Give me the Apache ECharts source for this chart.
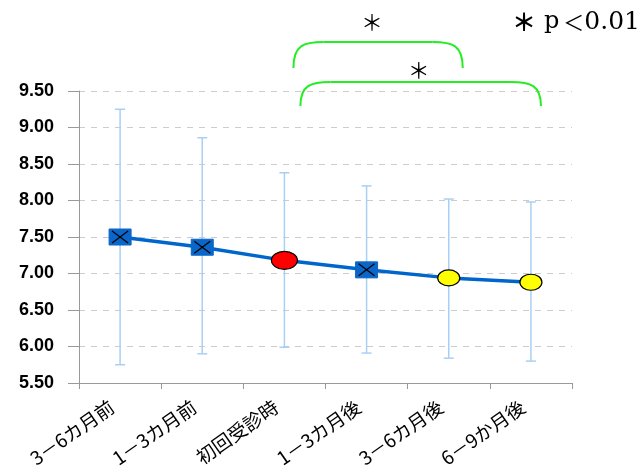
<!DOCTYPE html>
<html><head><meta charset="utf-8">
<script src="https://cdn.jsdelivr.net/npm/echarts@6/dist/echarts.min.js"></script>
<style>html,body{margin:0;padding:0;background:#fff}#c{width:643px;height:467px}</style>
</head><body><div id="c"></div>
<script>
const categories = ['3－6カ月前','1－3カ月前','初回受診時','1－3カ月後','3－6カ月後','6－9か月後'];
const means = [7.50, 7.36, 7.18, 7.05, 6.94, 6.88];
const upper = [9.25, 8.86, 8.38, 8.20, 8.02, 7.98];
const lower = [5.75, 5.90, 5.99, 5.91, 5.84, 5.80];
const markerKinds = ['square','square','red','square','yellow','yellow'];
const yTicks = [5.5, 9.5, 0.5];

const chart = echarts.init(document.getElementById('c'));
const errData = categories.map((c,i)=>[i, lower[i], upper[i]]);
const markData = categories.map((c,i)=>[i, means[i]]);

chart.setOption({
  animation:false,
  grid:{left:79,right:71,top:91,bottom:84,containLabel:false,outerBoundsMode:'none'},
  xAxis:{type:'category',data:categories,boundaryGap:true,
    axisLine:{lineStyle:{color:'#999',width:1}},
    axisTick:{show:true,length:6,lineStyle:{color:'#999'}},
    axisLabel:{rotate:35,fontSize:19,color:'#000',margin:16,fontFamily:'Noto Sans CJK JP',interval:0,padding:[0,10,0,0],hideOverlap:false}},
  yAxis:{type:'value',min:yTicks[0],max:yTicks[1],interval:yTicks[2],
    axisLine:{show:true,lineStyle:{color:'#999'}},
    axisTick:{show:true,length:11,lineStyle:{color:'#999'}},
    axisLabel:{formatter:v=>v.toFixed(2),fontSize:18,color:'#000',fontFamily:'Liberation Sans',fontWeight:'bold',margin:25},
    splitLine:{show:true,lineStyle:{color:'#ccc',type:[6,6],width:1}}},
  series:[
    {type:'custom',data:errData,z:1,
      renderItem:(params,api)=>{
        const x=api.coord([api.value(0),api.value(1)])[0];
        const lo=api.coord([api.value(0),api.value(1)])[1];
        const hi=api.coord([api.value(0),api.value(2)])[1];
        const st={stroke:'#a8d0f5',lineWidth:1.5};
        return {type:'group',children:[
          {type:'line',shape:{x1:x,y1:lo,x2:x,y2:hi},style:st},
          {type:'line',shape:{x1:x-5,y1:lo,x2:x+5,y2:lo},style:st},
          {type:'line',shape:{x1:x-5,y1:hi,x2:x+5,y2:hi},style:st}]};
      }},
    {type:'line',data:means,z:2,symbol:'none',lineStyle:{color:'#0066cc',width:3.5}},
    {type:'custom',data:markData,z:3,
      renderItem:(params,api)=>{
        const p=api.coord([api.value(0),api.value(1)]);
        const k=markerKinds[params.dataIndex];
        if(k==='square'){
          const w=11,h=8;
          return {type:'group',children:[
            {type:'rect',shape:{x:p[0]-w,y:p[1]-h,width:2*w,height:2*h},style:{fill:'#0a66c8',stroke:'#0a66c8'}},
            {type:'line',shape:{x1:p[0]-8,y1:p[1]-6,x2:p[0]+8,y2:p[1]+6},style:{stroke:'#000',lineWidth:1.2}},
            {type:'line',shape:{x1:p[0]-8,y1:p[1]+6,x2:p[0]+8,y2:p[1]-6},style:{stroke:'#000',lineWidth:1.2}}]};
        }
        const red=k==='red';
        return {type:'ellipse',shape:{cx:p[0],cy:p[1],rx:red?13:11,ry:red?9:8},
          style:{fill:red?'#ff0000':'#ffff00',stroke:'#000',lineWidth:1.2}};
      }}
  ]
});

function bracket(x1,x2,yTop,yEnd){
  const r=Math.min(30,(x2-x1)/3);
  const st={stroke:'#22ee22',lineWidth:2,fill:'none'};
  return [
    {type:'bezierCurve',shape:{x1:x1,y1:yEnd,cpx1:x1,cpy1:yTop+3,cpx2:x1+r*0.35,cpy2:yTop,x2:x1+r,y2:yTop},style:st},
    {type:'line',shape:{x1:x1+r,y1:yTop,x2:x2-r,y2:yTop},style:st},
    {type:'bezierCurve',shape:{x1:x2-r,y1:yTop,cpx1:x2-r*0.35,cpy1:yTop,cpx2:x2,cpy2:yTop+3,x2:x2,y2:yEnd},style:st}
  ];
}
const px=i=>chart.convertToPixel({xAxisIndex:0},i);
const b1x1=px(2)+9, b1x2=px(4)+14, b2x1=px(2)+16, b2x2=px(5)+10;
chart.setOption({graphic:[].concat(
  bracket(b1x1,b1x2,42,68),
  bracket(b2x1,b2x2,82,106),
  [
  {type:'text',style:{text:'＊',x:(b1x1+b1x2)/2-6,y:22,fontSize:22,fill:'#000',align:'center',verticalAlign:'middle',fontFamily:'Noto Sans CJK JP'}},
  {type:'text',style:{text:'＊',x:(b2x1+b2x2)/2-2,y:70,fontSize:22,fill:'#000',align:'center',verticalAlign:'middle',fontFamily:'Noto Sans CJK JP'}},
  {type:'text',style:{text:'{a|＊}{b|p}{c|＜}{d|0.01}',x:512,y:22,verticalAlign:'middle',
    rich:{a:{fontSize:24,fontWeight:'bold',fontFamily:'Noto Sans CJK JP',fill:'#000',padding:[0,8,0,0]},
          b:{fontSize:24,fontFamily:'DejaVu Serif',fill:'#000',padding:[0,4,0,0]},
          c:{fontSize:21,fontFamily:'Noto Sans CJK JP',fill:'#000'},
          d:{fontSize:25,fontFamily:'DejaVu Serif',fill:'#000'}}}}
  ])});
</script></body></html>
